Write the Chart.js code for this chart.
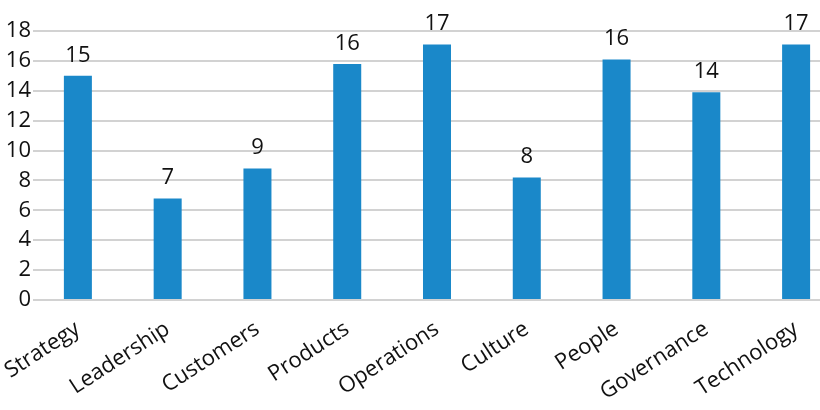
<!DOCTYPE html>
<html>
<head>
  <title>Scores by Area</title>
  <script src="https://cdn.jsdelivr.net/npm/chart.js"></script>
  <style>
    body {
      margin: 0;
      overflow: hidden;
      background: white;
    }
    .chart-box {
      position: relative;
      width: 845px;
      height: 410px;
    }
  </style>
</head>
<body>
  <div class="chart-box">
    <canvas id="scoreChart" width="845" height="410"></canvas>
  </div>

  <script>
    const areas = ['Strategy', 'Leadership', 'Customers', 'Products', 'Operations', 'Culture', 'People', 'Governance', 'Technology'];
    const scores = [15.0, 6.8, 8.8, 15.8, 17.1, 8.2, 16.1, 13.9, 17.1];
    const yTicks = [0, 2, 4, 6, 8, 10, 12, 14, 16, 18];

    const fontFamily = '"Open Sans", "Noto Sans", sans-serif';

    // value labels above each bar, rounded like the source
    const valueLabels = {
      id: 'valueLabels',
      afterDatasetsDraw(chart) {
        const ctx = chart.ctx;
        const meta = chart.getDatasetMeta(0);
        ctx.save();
        ctx.font = '22px ' + fontFamily;
        ctx.fillStyle = '#111';
        ctx.textAlign = 'center';
        ctx.textBaseline = 'alphabetic';
        meta.data.forEach((bar, i) => {
          ctx.fillText(Math.round(scores[i]), bar.x, bar.y - 14);
        });
        ctx.restore();
      }
    };

    new Chart(document.getElementById('scoreChart').getContext('2d'), {
      type: 'bar',
      data: {
        labels: areas,
        datasets: [{
          data: scores,
          backgroundColor: '#1a88c9',
          barPercentage: 0.312,
          categoryPercentage: 1
        }]
      },
      options: {
        responsive: false,
        animation: false,
        layout: { padding: { top: 31, right: 4, left: 0, bottom: 0 } },
        plugins: {
          legend: { display: false },
          tooltip: { enabled: false }
        },
        scales: {
          x: {
            grid: { display: false },
            border: { display: false },
            ticks: {
              color: '#111',
              font: { family: fontFamily, size: 22 },
              minRotation: 33,
              maxRotation: 33,
              autoSkip: false,
              padding: 8
            },
            afterFit: s => {
              s.height = 110;
              s.paddingLeft = 0;
              s.paddingRight = 0;
            }
          },
          y: {
            min: 0,
            max: 18,
            afterBuildTicks: s => { s.ticks = yTicks.map(v => ({ value: v })); },
            grid: { color: '#d2d2d2', lineWidth: 2, drawTicks: false },
            border: { display: false },
            ticks: {
              color: '#111',
              font: { family: fontFamily, size: 22 },
              padding: 2
            },
            afterFit: s => { s.width = 33; }
          }
        }
      },
      plugins: [valueLabels]
    });
  </script>
</body>
</html>
